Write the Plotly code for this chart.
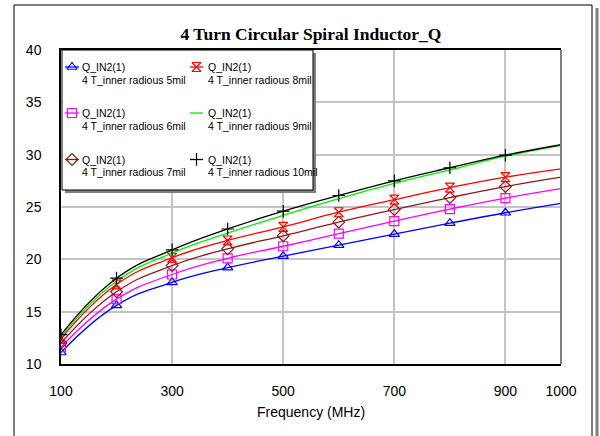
import plotly.graph_objects as go

# Frequency sweep (MHz)
freq = [100, 200, 300, 400, 500, 600, 700, 800, 900, 1000]

# Quality factor Q for each inner radius
q_5mil = [11.1, 15.6, 17.8, 19.2, 20.3, 21.35, 22.4, 23.45, 24.45, 25.35]
q_6mil = [11.6, 16.2, 18.55, 20.1, 21.25, 22.45, 23.65, 24.8, 25.85, 26.75]
q_7mil = [12.0, 16.9, 19.4, 21.0, 22.25, 23.55, 24.75, 25.9, 26.95, 27.85]
q_8mil = [12.4, 17.6, 20.15, 21.8, 23.1, 24.5, 25.7, 26.85, 27.85, 28.65]
q_9mil = [12.6, 17.9, 20.6, 22.5, 24.2, 25.8, 27.25, 28.55, 29.85, 30.9]
q_10mil = [12.8, 18.2, 20.9, 22.9, 24.6, 26.1, 27.5, 28.75, 29.95, 30.95]

trace_name = "Q_IN2(1)"
radius_labels = ["4 T_inner radious 5mil", "4 T_inner radious 6mil",
                 "4 T_inner radious 7mil", "4 T_inner radious 8mil",
                 "4 T_inner radious 9mil", "4 T_inner radious 10mil"]

x_ticks = [100, 300, 500, 700, 900, 1000]
y_ticks = [10, 15, 20, 25, 30, 35, 40]

series = [
    (q_5mil, "#0000FF", "triangle-up-open"),
    (q_6mil, "#FF00FF", "square-open"),
    (q_7mil, "#8B1A1A", "diamond-open"),
    (q_8mil, "#FF0000", "hourglass-open"),
    (q_9mil, "#00EE00", None),
    (q_10mil, "#000000", "cross-thin"),
]

W, H = 600, 436
L, R, T, B = 61, 39, 50, 72          # plot-area margins in px
PW, PH = W - L - R, H - T - B


def px(x):
    return (x - L) / PW


def py(y):
    return (H - B - y) / PH


fig = go.Figure()

# Curves and their markers
for q, color, symbol in series:
    fig.add_trace(go.Scatter(
        x=freq, y=q, mode="lines",
        line=dict(color=color, width=1.3, shape="spline", smoothing=1.3),
        showlegend=False, hoverinfo="skip"))
    if symbol:
        fig.add_trace(go.Scatter(
            x=freq[:-1], y=q[:-1], mode="markers",
            marker=dict(symbol=symbol, size=9, color=color,
                        line=dict(color=color, width=1.2)),
            showlegend=False, hoverinfo="skip"))

# Legend panel drawn on a pixel-scaled overlay axis pair
box_l, box_t, box_r, box_b = 62, 50, 313, 190
fig.add_trace(go.Scatter(
    x=[box_l + 3, box_r + 3, box_r + 3, box_l + 3, box_l + 3],
    y=[box_t + 3, box_t + 3, box_b + 3, box_b + 3, box_t + 3],
    xaxis="x2", yaxis="y2", mode="lines", fill="toself",
    fillcolor="#808080", line=dict(color="#808080", width=0),
    showlegend=False, hoverinfo="skip"))
fig.add_trace(go.Scatter(
    x=[box_l, box_r, box_r, box_l, box_l],
    y=[box_t, box_t, box_b, box_b, box_t],
    xaxis="x2", yaxis="y2", mode="lines", fill="toself",
    fillcolor="white", line=dict(color="black", width=1),
    showlegend=False, hoverinfo="skip"))

col_sym = [(65, 79), (190, 203)]
col_text = [80, 206]
row_y = [67, 113, 159.5]
line_gap = 12.7

annotations = []
for i, (q, color, symbol) in enumerate(series):
    col, row = divmod(i, 3)
    x0, x1 = col_sym[col]
    y0 = row_y[row]
    fig.add_trace(go.Scatter(
        x=[x0, x1], y=[y0, y0], xaxis="x2", yaxis="y2", mode="lines",
        line=dict(color=color, width=1.3),
        showlegend=False, hoverinfo="skip"))
    if symbol:
        fig.add_trace(go.Scatter(
            x=[(x0 + x1) / 2], y=[y0], xaxis="x2", yaxis="y2", mode="markers",
            marker=dict(symbol=symbol, size=9, color=color,
                        line=dict(color=color, width=1.2)),
            showlegend=False, hoverinfo="skip"))
    for k, txt in enumerate([trace_name, radius_labels[i]]):
        annotations.append(dict(
            x=col_text[col], y=y0 + k * line_gap, xref="x2", yref="y2",
            text=txt, showarrow=False, xanchor="left", yanchor="middle",
            font=dict(family="Liberation Sans", size=10.5, color="black")))

annotations.append(dict(
    x=0.5, y=py(412), xref="paper", yref="paper", text="Frequency (MHz)",
    showarrow=False, xanchor="center", yanchor="middle",
    font=dict(family="Liberation Sans", size=14, color="black")))

shapes = [
    # outer frame and its shadow
    dict(type="rect", xref="paper", yref="paper",
         x0=px(14), x1=px(592), y0=py(5), y1=py(445),
         line=dict(color="black", width=1), layer="above"),
    dict(type="line", xref="paper", yref="paper",
         x0=px(597), x1=px(597), y0=py(8), y1=py(445),
         line=dict(color="#808080", width=3), layer="above"),
    # right edge of the plot frame
    dict(type="line", xref="paper", yref="paper",
         x0=1, x1=1, y0=0, y1=1,
         line=dict(color="#808080", width=2), layer="above"),
]

axis_font = dict(family="Liberation Sans", size=14, color="black")

fig.update_layout(
    width=W, height=H,
    margin=dict(l=L, r=R, t=T, b=B),
    paper_bgcolor="white", plot_bgcolor="white",
    title=dict(text="4 Turn Circular Spiral Inductor_Q",
               x=px(311), xref="paper", xanchor="center",
               y=1 - 34 / H, yref="container", yanchor="middle",
               font=dict(family="Liberation Serif", size=17.5, color="black",
                         weight="bold")),
    xaxis=dict(range=[100, 1000], tickvals=x_ticks,
               ticktext=[str(v) for v in x_ticks],
               showgrid=True, gridcolor="#c4c4c4", gridwidth=1.5,
               showline=True, linecolor="black", linewidth=1.5, mirror=True,
               ticks="", ticklabelstandoff=13, tickfont=axis_font,
               zeroline=False, fixedrange=True),
    yaxis=dict(range=[10, 40], tickvals=y_ticks,
               showgrid=True, gridcolor="#c4c4c4", gridwidth=1.5,
               showline=True, linecolor="black", linewidth=1.5,
               ticks="", ticklabelstandoff=15, tickfont=axis_font,
               zeroline=False, fixedrange=True),
    xaxis2=dict(range=[L, W - R], overlaying="x", anchor="y2",
                visible=False, fixedrange=True),
    yaxis2=dict(range=[H - B, T], overlaying="y", anchor="x2",
                visible=False, fixedrange=True),
    annotations=annotations,
    shapes=shapes,
    showlegend=False,
)

fig.write_html("out.html")
